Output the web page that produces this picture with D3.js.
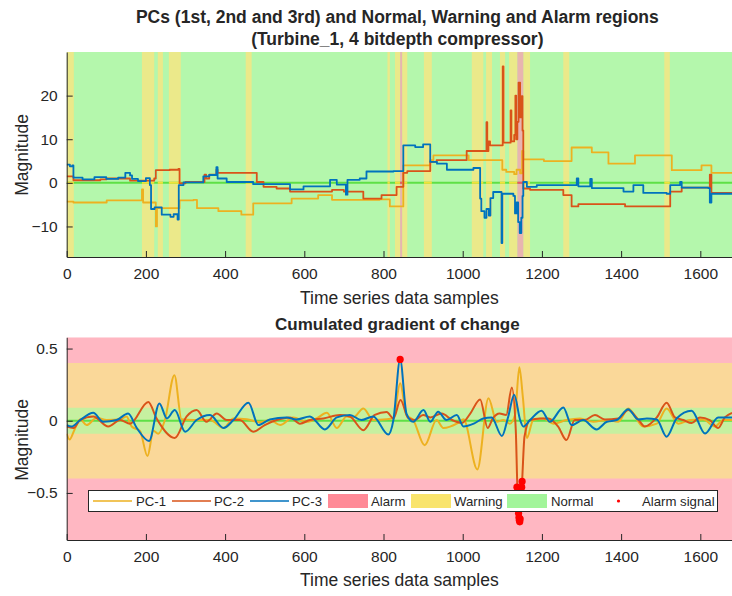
<!DOCTYPE html>
<html>
<head>
<meta charset="utf-8">
<script src="https://cdn.jsdelivr.net/npm/d3@7"></script>
<style>
  body { margin: 0; background: #fff; }
  text { font-family: 'Liberation Sans', Arial, sans-serif; fill: #262626; }
</style>
</head>
<body>
<div id="chart"></div>
<script>
// region bands of the upper plot (sample ranges)
var warningBands = [[0, 18], [190, 221], [230, 243], [258, 288], [452, 467], [810, 816],
  [829, 842], [847, 860], [902, 922], [1023, 1052], [1059, 1074], [1094, 1107],
  [1117, 1138], [1153, 1170], [1254, 1269], [1509, 1523]]
var alarmBands = [[842, 847], [1138, 1153]]

// PCs of the upper plot, [sample, value] step points
var pc1Top = [[0, -4.3], [17, -4.5], [85, -4.5], [101, -4.0], [185, -4.0], [190, -1.5], [193, -4.5],
  [221, -4.5], [225, -10], [228, -5.8], [282, -5.8], [285, -4.0], [320, -3.9], [329, -5.8],
  [379, -5.8], [383, -6.5], [437, -6.5], [441, -7.3], [467, -7.3], [471, -4.7], [564, -4.7],
  [568, -3.6], [631, -3.6], [635, -2.8], [665, -2.8], [670, -3.9], [790, -3.8], [816, -5.4],
  [846, -5.4], [850, 4.0], [912, 4.0], [918, 5.2], [926, 6.3], [1010, 6.3], [1015, 5.2],
  [1094, 5.2], [1100, 3.0], [1110, 2.5], [1130, 2.0], [1136, 3.0], [1145, 2.2], [1150, 7.3],
  [1153, 5.4], [1200, 5.4], [1205, 5.0], [1271, 5.0], [1275, 8.1], [1322, 8.1], [1326, 7.0],
  [1364, 7.0], [1368, 4.4], [1431, 4.4], [1435, 6.3], [1524, 6.3], [1528, 2.9], [1599, 2.9],
  [1603, 4.0], [1624, 4.0], [1628, 2.3], [1680, 2.3]]
var pc2Top = [[0, 1.5], [12, 1.5], [17, 0.6], [85, 0.8], [101, 1.0], [151, 1.0], [160, 0.5],
  [210, 0.5], [221, 1.0], [225, 2.9], [260, 3.0], [282, 3.2], [285, -0.1], [300, 0.2],
  [345, 0.2], [348, 1.9], [352, 1.0], [360, 1.9], [378, 3.0], [381, 2.3], [471, 2.3],
  [480, 0.2], [494, 0.2], [497, -0.9], [530, -1.3], [564, -2.0], [665, -2.0], [670, -1.6],
  [690, -1.6], [700, -2.0], [745, -2.0], [749, -3.6], [790, -3.6], [795, -2.8], [816, -2.8],
  [833, -0.9], [846, -0.9], [850, 2.3], [860, 2.7], [918, 4.8], [934, 5.2], [1005, 5.2],
  [1010, 7.3], [1058, 7.3], [1060, 13.9], [1062, 7.3], [1065, 9.5], [1069, 8.6], [1098, 8.6],
  [1101, 26.7], [1103, 9.2], [1117, 9.2], [1121, 16.6], [1123, 9.5], [1130, 11], [1133, 20],
  [1135, 10], [1138, 14], [1141, 23.0], [1145, 15], [1149, 19.9], [1151, 12], [1153, -1.3],
  [1170, -1.6], [1248, -1.6], [1254, -2.8], [1271, -2.8], [1275, -5.4], [1288, -5.4],
  [1292, -4.9], [1406, -4.9], [1410, -5.4], [1507, -5.4], [1524, -2.0], [1549, -2.0],
  [1553, -1.1], [1620, -1.1], [1624, 1.9], [1628, -2.3], [1680, -2.3]]
var pc3Top = [[0, 4.2], [8, 3.8], [14, 4.0], [17, 1.2], [40, 0.8], [70, 1.3], [100, 0.9],
  [130, 1.2], [148, 2.3], [160, 1.7], [165, 0.9], [180, 0.4], [200, 1.1], [210, -0.5],
  [213, -6.0], [222, -5.6], [240, -7.3], [262, -7.8], [270, -7.2], [280, -8.4], [283, -0.5],
  [295, 0.1], [345, 1.5], [360, 1.8], [378, 3.6], [381, 1.0], [404, 0.2], [471, -0.3],
  [564, -1.5], [598, -0.8], [665, 0.7], [682, -0.4], [705, -2.7], [709, 0.7], [740, 1.0],
  [757, 2.6], [825, 2.7], [846, 2.7], [850, 8.6], [880, 8.2], [900, 8.8], [918, 4.8],
  [935, 4.4], [960, 3.0], [1027, 3.4], [1044, -3.6], [1047, -6.5], [1055, -8.0], [1060, -6.0],
  [1066, -7.5], [1070, -3.5], [1077, -2.1], [1097, -2.1], [1098, -13.8], [1100, -2.5],
  [1128, -3.0], [1132, -7], [1136, -4.5], [1140, -9], [1144, -11.5], [1148, -8], [1151, -3],
  [1153, 0.2], [1162, -0.9], [1187, -0.5], [1288, 1.0], [1292, -0.8], [1322, 0.9],
  [1326, -1.2], [1406, -2.0], [1431, -0.5], [1456, -2.3], [1515, -2.5], [1524, -0.5],
  [1549, 0.2], [1553, -1.1], [1620, -1.2], [1624, -4.5], [1628, -2.5], [1680, -2.5]]

// cumulated gradient of change, [sample, value]
var pc1Grad = [[0, -0.09], [7, -0.13], [20, -0.06], [34, 0.01], [50, -0.03], [76, 0.02],
  [101, 0.005], [135, 0.01], [151, 0.03], [164, -0.04], [185, -0.07], [204, -0.245],
  [219, -0.07], [231, -0.09], [248, 0.005], [272, 0.316], [290, 0.01], [320, 0.005],
  [362, 0.005], [396, -0.05], [421, 0.015], [455, 0.01], [488, -0.01], [513, 0.005],
  [539, -0.03], [572, 0.023], [606, -0.007], [631, 0.016], [657, 0.055], [682, -0.05],
  [707, 0.03], [724, 0.023], [749, 0.085], [774, 0.005], [808, 0.01], [825, 0.02], [842, 0.26],
  [858, 0.04], [875, 0.005], [904, -0.17], [934, 0.005], [951, -0.05], [985, -0.02],
  [1002, 0.01], [1037, -0.337], [1065, 0.155], [1086, -0.007], [1103, 0.005], [1119, -0.02],
  [1132, 0.04], [1143, 0.37], [1152, 0.16], [1162, -0.12], [1178, 0.005], [1203, 0.016],
  [1229, -0.02], [1262, 0.005], [1296, 0.016], [1330, -0.007], [1364, 0.005], [1393, -0.007],
  [1418, 0.085], [1456, -0.04], [1490, -0.02], [1515, 0.085], [1544, -0.02], [1574, 0.005],
  [1607, 0.009], [1637, -0.04], [1658, 0.005], [1680, 0.005]]
var pc2Grad = [[0, -0.04], [17, -0.05], [34, 0.005], [67, 0.03], [105, -0.04], [135, 0.005],
  [160, -0.02], [206, 0.13], [227, 0.015], [273, -0.12], [303, 0.03], [328, 0.074],
  [353, -0.007], [379, 0.05], [404, 0.005], [437, 0.005], [471, -0.076], [500, -0.03],
  [530, 0.005], [564, 0.023], [589, -0.02], [614, 0.005], [648, 0.016], [690, 0.04],
  [715, 0.03], [749, -0.065], [778, 0.04], [808, 0.06], [825, 0.016], [843, 0.143],
  [862, 0.02], [879, 0.005], [900, 0.04], [918, 0.023], [947, 0.05], [973, 0.005],
  [998, -0.015], [1019, 0.05], [1044, 0.148], [1063, -0.05], [1076, 0.016], [1093, 0.05],
  [1110, 0.04], [1124, 0.23], [1134, -0.065], [1138, -0.46], [1144, -0.69], [1150, -0.42],
  [1156, -0.11], [1170, 0.005], [1195, 0.016], [1216, 0.016], [1241, -0.04], [1262, -0.134],
  [1283, 0.005], [1308, 0.005], [1334, 0.04], [1359, 0.009], [1393, 0.016], [1418, 0.074],
  [1443, 0.009], [1460, -0.04], [1490, 0.023], [1515, 0.125], [1536, 0.023], [1557, 0.005],
  [1578, -0.016], [1599, 0.023], [1624, 0.005], [1645, -0.05], [1662, 0.023], [1680, 0.055]]
var pc3Grad = [[0, -0.03], [12, -0.04], [34, 0.005], [67, 0.055], [92, -0.007], [126, 0.005],
  [155, 0.05], [177, -0.05], [208, -0.14], [234, 0.12], [253, 0.016], [273, 0.074],
  [299, -0.076], [328, 0.005], [362, 0.04], [396, -0.05], [421, 0.005], [459, 0.125],
  [484, -0.03], [513, 0.009], [555, 0.023], [580, 0.009], [614, 0.03], [652, -0.06],
  [682, 0.023], [715, 0.04], [744, 0.005], [774, 0.03], [812, -0.095], [825, 0.005],
  [842, 0.425], [858, 0.05], [875, -0.007], [901, 0.074], [918, -0.007], [938, 0.063],
  [959, 0.005], [985, 0.04], [1002, -0.04], [1028, -0.02], [1052, 0.016], [1073, 0.023],
  [1099, -0.106], [1115, 0.03], [1130, 0.18], [1145, 0.005], [1153, -0.04], [1170, 0.005],
  [1199, 0.07], [1220, -0.007], [1254, 0.092], [1275, -0.03], [1304, 0.005], [1338, -0.06],
  [1364, -0.007], [1389, 0.005], [1418, 0.08], [1443, 0.009], [1465, 0.016], [1490, 0.009],
  [1515, -0.11], [1540, 0.016], [1578, 0.07], [1612, -0.088], [1645, 0.023], [1680, 0.023]]

// samples flagged as alarm signal
var alarmSignal = [[842, 0.425], [1137, -0.46], [1141, -0.64], [1142, -0.67], [1143, -0.69],
  [1144, -0.70], [1145, -0.68], [1149, -0.46], [1150, -0.42]]

var xTicks = [0, 200, 400, 600, 800, 1000, 1200, 1400, 1600]
var yTicksTop = [-10, 0, 10, 20]
var yTicksBottom = [-0.5, 0, 0.5]
var warnLimit = 0.4
var normalLimit = 0.09

var COLOR = {
  PC1: '#EDB120', PC2: '#D95319', PC3: '#0072BD',
  NORMAL_BAND: '#b4f7ac', WARN_BAND: '#ebe98a', ALARM_BAND: '#e8b4b0',
  PINK: '#ffb7c2', ORANGE_BAND: '#fad899', GREEN_BAND: '#c6f0a0',
  ZERO: '#5ee046', AXIS: '#262626'
}

var W = 732, H = 596
var svg = d3.select('#chart').append('svg').attr('width', W).attr('height', H)

var x = d3.scaleLinear().domain([0, 1680]).range([66.7, 732])
var yTop = d3.scaleLinear().domain([-17, 30]).range([257, 52])
var yBot = d3.scaleLinear().domain([-0.826, 0.578]).range([540, 337.3])

var defs = svg.append('defs')
defs.append('clipPath').attr('id', 'clipTop').append('rect')
  .attr('x', x.range()[0]).attr('y', yTop.range()[1])
  .attr('width', x.range()[1] - x.range()[0]).attr('height', yTop.range()[0] - yTop.range()[1])
defs.append('clipPath').attr('id', 'clipBot').append('rect')
  .attr('x', x.range()[0]).attr('y', yBot.range()[1])
  .attr('width', x.range()[1] - x.range()[0]).attr('height', yBot.range()[0] - yBot.range()[1])

// ---------- upper plot ----------
var topG = svg.append('g').attr('clip-path', 'url(#clipTop)')
topG.append('rect')
  .attr('x', x(0)).attr('y', yTop(30)).attr('width', x(1680) - x(0))
  .attr('height', yTop(-17) - yTop(30)).attr('fill', COLOR.NORMAL_BAND)
topG.selectAll('.warn').data(warningBands).enter().append('rect')
  .attr('x', d => x(d[0])).attr('width', d => x(d[1]) - x(d[0]))
  .attr('y', yTop(30)).attr('height', yTop(-17) - yTop(30)).attr('fill', COLOR.WARN_BAND)
topG.selectAll('.alarm').data(alarmBands).enter().append('rect')
  .attr('x', d => x(d[0])).attr('width', d => x(d[1]) - x(d[0]))
  .attr('y', yTop(30)).attr('height', yTop(-17) - yTop(30)).attr('fill', COLOR.ALARM_BAND)

// state line at zero
topG.append('line').attr('x1', x(0)).attr('x2', x(1680))
  .attr('y1', yTop(0)).attr('y2', yTop(0)).attr('stroke', COLOR.ZERO).attr('stroke-width', 2)
topG.selectAll('.wz').data(warningBands).enter().append('line')
  .attr('x1', d => x(d[0])).attr('x2', d => x(d[1]))
  .attr('y1', yTop(0)).attr('y2', yTop(0)).attr('stroke', '#f2e23a').attr('stroke-width', 2)
topG.selectAll('.az').data(alarmBands).enter().append('line')
  .attr('x1', d => x(d[0])).attr('x2', d => x(d[1]))
  .attr('y1', yTop(0)).attr('y2', yTop(0)).attr('stroke', '#f0506a').attr('stroke-width', 2)

var stepLine = d3.line().x(d => x(d[0])).y(d => yTop(d[1])).curve(d3.curveStepAfter)
var topSeries = [[pc1Top, COLOR.PC1], [pc2Top, COLOR.PC2], [pc3Top, COLOR.PC3]]
topSeries.forEach(s => {
  topG.append('path').attr('d', stepLine(s[0])).attr('fill', 'none')
    .attr('stroke', s[1]).attr('stroke-width', 1.8).attr('stroke-linejoin', 'round')
})

// ---------- lower plot ----------
var botG = svg.append('g').attr('clip-path', 'url(#clipBot)')
botG.append('rect').attr('x', x(0)).attr('width', x(1680) - x(0))
  .attr('y', yBot(0.578)).attr('height', yBot(-0.826) - yBot(0.578)).attr('fill', COLOR.PINK)
botG.append('rect').attr('x', x(0)).attr('width', x(1680) - x(0))
  .attr('y', yBot(warnLimit)).attr('height', yBot(-warnLimit) - yBot(warnLimit)).attr('fill', COLOR.ORANGE_BAND)
botG.append('rect').attr('x', x(0)).attr('width', x(1680) - x(0))
  .attr('y', yBot(normalLimit)).attr('height', yBot(-normalLimit) - yBot(normalLimit)).attr('fill', COLOR.GREEN_BAND)
botG.append('line').attr('x1', x(0)).attr('x2', x(1680))
  .attr('y1', yBot(0)).attr('y2', yBot(0)).attr('stroke', COLOR.ZERO).attr('stroke-width', 2)

var smoothLine = d3.line().x(d => x(d[0])).y(d => yBot(d[1])).curve(d3.curveMonotoneX)
var botSeries = [[pc1Grad, COLOR.PC1], [pc2Grad, COLOR.PC2], [pc3Grad, COLOR.PC3]]
botSeries.forEach(s => {
  botG.append('path').attr('d', smoothLine(s[0])).attr('fill', 'none')
    .attr('stroke', s[1]).attr('stroke-width', 2)
})
botG.selectAll('.sig').data(alarmSignal).enter().append('circle')
  .attr('cx', d => x(d[0])).attr('cy', d => yBot(d[1])).attr('r', 3.6).attr('fill', '#ff0000')

// ---------- axes ----------
function drawAxes (yScale, yTicks, fmt) {
  var xa = svg.append('g').attr('transform', 'translate(0,' + yScale.range()[0] + ')')
    .call(d3.axisBottom(x).tickValues(xTicks).tickFormat(d3.format('d'))
      .tickSizeInner(-6).tickSizeOuter(0).tickPadding(11))
  var ya = svg.append('g').attr('transform', 'translate(' + x.range()[0] + ',0)')
    .call(d3.axisLeft(yScale).tickValues(yTicks).tickFormat(fmt).tickSizeInner(-6).tickSizeOuter(0).tickPadding(9))
  ;[xa, ya].forEach(a => {
    a.select('.domain').attr('stroke', COLOR.AXIS)
    a.selectAll('.tick line').attr('stroke', COLOR.AXIS)
    a.selectAll('.tick text').style('font-size', '15.5px').attr('fill', COLOR.AXIS)
  })
}
drawAxes(yTop, yTicksTop, d3.format('d'))
drawAxes(yBot, yTicksBottom, d => d === 0 ? '0' : d3.format('.1f')(d))

// ---------- texts ----------
var cx = (x.range()[0] + x.range()[1]) / 2
svg.append('text').attr('x', cx - 2).attr('y', 17).attr('text-anchor', 'middle')
  .attr('dominant-baseline', 'central').style('font-size', '17.5px').style('font-weight', 'bold')
  .text('PCs (1st, 2nd and 3rd) and Normal, Warning and Alarm regions')
svg.append('text').attr('x', cx - 2).attr('y', 39).attr('text-anchor', 'middle')
  .attr('dominant-baseline', 'central').style('font-size', '17.5px').style('font-weight', 'bold')
  .text('(Turbine_1, 4 bitdepth compressor)')
svg.append('text').attr('x', cx - 2).attr('y', 324).attr('text-anchor', 'middle')
  .attr('dominant-baseline', 'central').style('font-size', '17px').style('font-weight', 'bold')
  .text('Cumulated gradient of change')
;[298, 580].forEach(yy => {
  svg.append('text').attr('x', cx).attr('y', yy).attr('text-anchor', 'middle')
    .attr('dominant-baseline', 'central').style('font-size', '17.5px')
    .text('Time series data samples')
})
;[155, 440].forEach(yy => {
  svg.append('text').attr('transform', 'translate(22,' + yy + ') rotate(-90)')
    .attr('text-anchor', 'middle').attr('dominant-baseline', 'central').style('font-size', '17.5px')
    .text('Magnitude')
})

// ---------- legend ----------
var lg = svg.append('g')
lg.append('rect').attr('x', 88.5).attr('y', 490.5).attr('width', 629).attr('height', 21)
  .attr('fill', '#fff').attr('stroke', '#262626').attr('stroke-width', 1)
var legendItems = [
  { type: 'line', color: COLOR.PC1, label: 'PC-1', x0: 93, tx: 136 },
  { type: 'line', color: COLOR.PC2, label: 'PC-2', x0: 172, tx: 214 },
  { type: 'line', color: COLOR.PC3, label: 'PC-3', x0: 250, tx: 292 },
  { type: 'rect', color: '#ff8a97', label: 'Alarm', x0: 328, tx: 371 },
  { type: 'rect', color: '#f9e46c', label: 'Warning', x0: 411, tx: 454 },
  { type: 'rect', color: '#a2f59a', label: 'Normal', x0: 507, tx: 551 },
  { type: 'dot', color: '#ff0000', label: 'Alarm signal', x0: 599, tx: 642 }
]
var ly = 501
legendItems.forEach(it => {
  if (it.type === 'line') {
    lg.append('line').attr('x1', it.x0).attr('x2', it.x0 + 39).attr('y1', ly).attr('y2', ly)
      .attr('stroke', it.color).attr('stroke-width', 1.5)
  } else if (it.type === 'rect') {
    lg.append('rect').attr('x', it.x0).attr('y', ly - 7).attr('width', 40).attr('height', 14)
      .attr('fill', it.color)
  } else {
    lg.append('circle').attr('cx', it.x0 + 19.5).attr('cy', ly).attr('r', 1.6).attr('fill', it.color)
  }
  lg.append('text').attr('x', it.tx).attr('y', ly).attr('dominant-baseline', 'central')
    .style('font-size', '13.2px').text(it.label)
})
</script>
</body>
</html>
